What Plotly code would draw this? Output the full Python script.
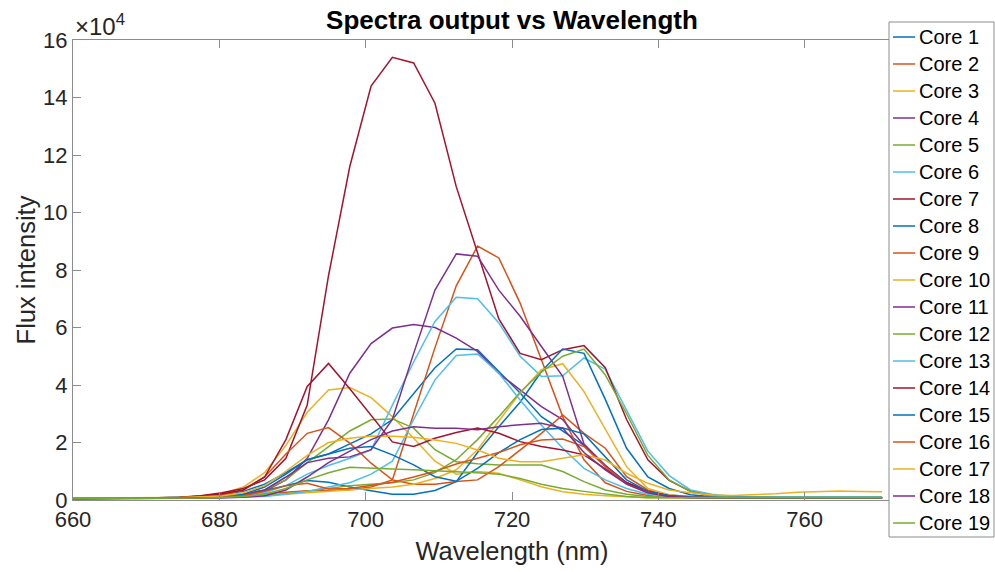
import plotly.graph_objects as go

# Wavelength grid of the spectrometer (nm)
wavelength = [660.00, 662.91, 665.82, 668.73, 671.64, 674.55, 677.46, 680.37, 683.28, 686.19,
              689.10, 692.01, 694.92, 697.83, 700.74, 703.65, 706.56, 709.47, 712.38, 715.29,
              718.20, 721.11, 724.02, 726.93, 729.84, 732.75, 735.66, 738.57, 741.48, 744.39,
              747.30, 750.21, 753.12, 756.03, 758.94, 761.85, 764.76, 767.67, 770.58]

# Flux intensity per fibre core (counts)
core_1 = [800, 700, 700, 700, 800, 900, 1200, 1800, 3000, 5500, 9500, 14000, 16000, 19500, 23000, 28000,
          37200, 46000, 52500, 52300, 44700, 37200, 29000, 24000, 19000, 12000, 6000, 3000, 1700, 1200,
          1000, 900, 900, 900, 900, 900, 900, 900, 900]
core_2 = [600, 500, 500, 500, 600, 700, 900, 1200, 1700, 2200, 2800, 3200, 3300, 3600, 4500, 7000,
          30000, 53000, 74500, 88300, 84200, 68500, 48800, 29000, 14000, 6000, 3000, 1600, 1000, 800,
          800, 800, 800, 800, 800, 800, 800, 800, 800]
core_3 = [600, 600, 500, 600, 700, 900, 1300, 2200, 4500, 9500, 19000, 30500, 38300, 39100, 35600, 29000,
          21500, 13500, 9000, 9900, 9300, 7000, 4600, 2900, 2000, 1500, 1100, 800, 800, 800,
          800, 800, 800, 800, 800, 800, 800, 800, 800]
core_4 = [500, 500, 500, 500, 600, 700, 900, 1200, 1700, 3000, 7000, 14500, 27900, 44100, 54400, 59800,
          61000, 60000, 56300, 51700, 44000, 38300, 32500, 28000, 19000, 12000, 6000, 3000, 1500, 1000,
          800, 800, 800, 800, 800, 800, 800, 800, 800]
core_5 = [600, 600, 600, 600, 700, 800, 1000, 1400, 2000, 3500, 7000, 13000, 18500, 24000, 27900, 28200,
          25000, 17500, 13300, 12600, 12200, 12200, 12200, 9900, 6400, 3500, 2000, 1200, 900, 900,
          900, 900, 900, 900, 900, 900, 900, 900, 900]
core_6 = [500, 500, 500, 500, 500, 600, 800, 1000, 1400, 2500, 5000, 9000, 12000, 14500, 17400, 33000,
          48000, 62100, 70500, 70000, 61600, 50000, 43000, 43200, 49400, 45500, 31000, 17000, 8500, 3500,
          2000, 1200, 1000, 1000, 1000, 1000, 1000, 1000, 1000]
core_7 = [800, 700, 700, 700, 800, 1000, 1500, 2500, 4000, 7000, 14500, 33000, 78000, 116000, 144000, 154000,
          152000, 138000, 109000, 86000, 63000, 51000, 48800, 52300, 53700, 46000, 28000, 14000, 6800, 3000,
          1500, 1000, 800, 800, 800, 800, 800, 800, 800]
core_8 = [500, 500, 500, 500, 500, 600, 800, 1200, 2000, 3300, 5000, 6800, 6200, 4500, 3200, 2000,
          2000, 3300, 6400, 16500, 25500, 34000, 44700, 52500, 51000, 35000, 18000, 8000, 4000, 1800,
          1100, 900, 900, 900, 900, 900, 900, 900, 900]
core_9 = [600, 600, 600, 600, 700, 800, 1100, 1700, 3500, 8000, 16000, 23200, 25200, 19800, 12800, 7000,
          5500, 5500, 6400, 7000, 11600, 17400, 23200, 29600, 23200, 18000, 8100, 3500, 1500, 1000,
          800, 800, 800, 800, 800, 800, 800, 800, 800]
core_10 = [500, 500, 500, 500, 500, 600, 700, 900, 1200, 1500, 2000, 2500, 3000, 3500, 4000, 4500,
           5500, 7500, 10500, 17500, 27500, 37200, 45300, 47400, 37700, 24500, 11600, 4000, 1800, 1000,
           800, 800, 800, 800, 800, 800, 800, 800, 800]
core_11 = [500, 500, 500, 500, 600, 700, 900, 1200, 1800, 3500, 8000, 13000, 14500, 15000, 17500, 28000,
           51000, 73000, 85600, 84800, 73000, 63900, 53400, 43000, 19500, 12000, 6000, 3000, 1500, 1000,
           800, 800, 800, 800, 800, 800, 800, 800, 800]
core_12 = [500, 500, 500, 500, 500, 600, 700, 900, 1200, 1600, 2200, 3000, 4000, 5000, 5500, 6000,
           7000, 9500, 14000, 21000, 29000, 37500, 44500, 50000, 52500, 43500, 30000, 15500, 7000, 3000,
           1500, 1000, 1000, 1000, 1000, 1000, 1000, 1000, 1000]
core_13 = [500, 500, 500, 500, 500, 500, 600, 800, 1000, 1200, 2000, 3000, 4500, 6000, 9000, 13500,
           28000, 41800, 50300, 50800, 44100, 34800, 26000, 18000, 11000, 7000, 4000, 2000, 1200, 900,
           900, 900, 900, 900, 900, 900, 900, 900, 900]
core_14 = [500, 500, 500, 600, 700, 900, 1400, 2200, 3500, 8000, 21000, 39500, 47500, 38700, 29300, 20200,
           18600, 21500, 23500, 25000, 23200, 20300, 18600, 17400, 15700, 11000, 6000, 3000, 1500, 1000,
           800, 700, 700, 700, 700, 700, 700, 700, 700]
core_15 = [500, 500, 500, 500, 600, 700, 900, 1200, 2000, 4500, 9000, 14000, 16000, 18000, 18600, 15700,
           12200, 8100, 6500, 11000, 16500, 21000, 24500, 25000, 23000, 15000, 7000, 3000, 1500, 1000,
           800, 800, 800, 800, 800, 800, 800, 800, 800]
core_16 = [600, 600, 600, 600, 600, 700, 800, 1000, 1500, 3000, 5000, 5800, 3800, 4000, 5000, 6200,
           8000, 10000, 12500, 14500, 16500, 19200, 20900, 21200, 18600, 11600, 5500, 2500, 1200, 800,
           800, 800, 800, 800, 800, 800, 800, 800, 800]
core_17 = [700, 700, 700, 700, 800, 900, 1100, 1400, 2500, 5000, 10000, 15500, 20000, 21500, 22300, 22200,
           21800, 20900, 19700, 17400, 14500, 13300, 13300, 14500, 15700, 13900, 9300, 5800, 3500, 2500,
           1700, 1600, 1800, 2200, 2700, 3000, 3100, 3000, 2900]
core_18 = [500, 500, 500, 500, 500, 600, 700, 800, 1000, 1500, 3500, 8000, 13000, 17000, 21000, 24000,
           25500, 25000, 25000, 24400, 25500, 26200, 26700, 25000, 16500, 10500, 5500, 2500, 1200, 800,
           800, 800, 800, 800, 800, 800, 800, 800, 800]
core_19 = [500, 500, 500, 500, 500, 600, 700, 900, 1200, 2000, 4000, 7000, 9500, 11400, 11000, 10800,
           10500, 10200, 9900, 9500, 9000, 7500, 5500, 4000, 3000, 2000, 1200, 800, 800, 800,
           800, 800, 800, 800, 800, 800, 800, 800, 800]

cores = [core_1, core_2, core_3, core_4, core_5, core_6, core_7, core_8, core_9, core_10,
         core_11, core_12, core_13, core_14, core_15, core_16, core_17, core_18, core_19]
core_names = [f"Core {k}" for k in range(1, 20)]

# MATLAB default line colour order, cycled
palette = ["#0072BD", "#D95319", "#EDB120", "#7E2F8E", "#77AC30", "#4DBEEE", "#A2142F"]

x_ticks = [660, 680, 700, 720, 740, 760]
y_ticks = [0, 20000, 40000, 60000, 80000, 100000, 120000, 140000, 160000]
y_tick_text = ["0", "2", "4", "6", "8", "10", "12", "14", "16"]

FONT = "Liberation Sans, Arial, Helvetica, sans-serif"
TEXT = "#262626"
AXIS = "#8c8c8c"

W, H = 995, 571
ML, MR, MT, MB = 73, 44, 40, 71
PW, PH = W - ML - MR, H - MT - MB


def px_to_paper(px, py):
    """Convert figure pixel position to paper coordinates of the plot area."""
    return (px - ML) / PW, (H - MB - py) / PH


fig = go.Figure()
colors = []
for i, (name, flux) in enumerate(zip(core_names, cores)):
    color = palette[i % len(palette)]
    colors.append(color)
    fig.add_trace(go.Scatter(
        x=wavelength, y=flux, mode="lines", name=name, showlegend=False,
        line=dict(color=color, width=1.5),
    ))

# Boxed legend on the right, overlapping the end of the axes (MATLAB style)
shapes, annotations = [], []
bx0, by0 = px_to_paper(889, 22)
bx1, by1 = px_to_paper(994, 537)
shapes.append(dict(type="rect", xref="paper", yref="paper", x0=bx0, y0=by1, x1=bx1, y1=by0,
                   fillcolor="white", line=dict(color=AXIS, width=1), layer="above"))
for k, (name, color) in enumerate(zip(core_names, colors)):
    row_y = 37 + 27 * k
    lx0, ly = px_to_paper(893, row_y)
    lx1, _ = px_to_paper(915, row_y)
    tx, _ = px_to_paper(917, row_y)
    shapes.append(dict(type="line", xref="paper", yref="paper", x0=lx0, x1=lx1, y0=ly, y1=ly,
                       line=dict(color=color, width=1.5), layer="above"))
    annotations.append(dict(text=name, xref="paper", yref="paper", x=tx, y=ly, xanchor="left",
                            yanchor="middle", showarrow=False,
                            font=dict(size=20, color="black")))

annotations.append(dict(text="\u00d710<sup>4</sup>", xref="paper", yref="paper", x=0, y=1,
                        xanchor="left", yanchor="bottom", showarrow=False, yshift=-2,
                        font=dict(size=24, color=TEXT)))

fig.update_layout(
    width=W, height=H,
    margin=dict(l=ML, r=MR, t=MT, b=MB),
    paper_bgcolor="white", plot_bgcolor="white",
    font=dict(family=FONT, color=TEXT),
    showlegend=False,
    title=dict(text="<b>Spectra output vs Wavelength</b>", x=0.5, xref="paper",
               y=1 - 20 / H, yanchor="middle", font=dict(size=26, color="black")),
    xaxis=dict(range=[660, 780], tickvals=x_ticks, ticks="inside", ticklen=8,
               tickcolor=AXIS, showline=True, linecolor=AXIS, linewidth=1, mirror="ticks",
               showgrid=False, zeroline=False, tickfont=dict(size=22, color=TEXT),
               title=dict(text="Wavelength (nm)", font=dict(size=25.5, color=TEXT), standoff=10)),
    yaxis=dict(range=[0, 160000], tickvals=y_ticks, ticktext=y_tick_text, ticks="inside",
               ticklen=8, tickcolor=AXIS, showline=True, linecolor=AXIS, linewidth=1,
               mirror="ticks", showgrid=False, zeroline=False, tickfont=dict(size=22, color=TEXT),
               title=dict(text="Flux intensity", font=dict(size=25.5, color=TEXT), standoff=0)),
    shapes=shapes,
    annotations=annotations,
)

fig.write_html("out.html")
